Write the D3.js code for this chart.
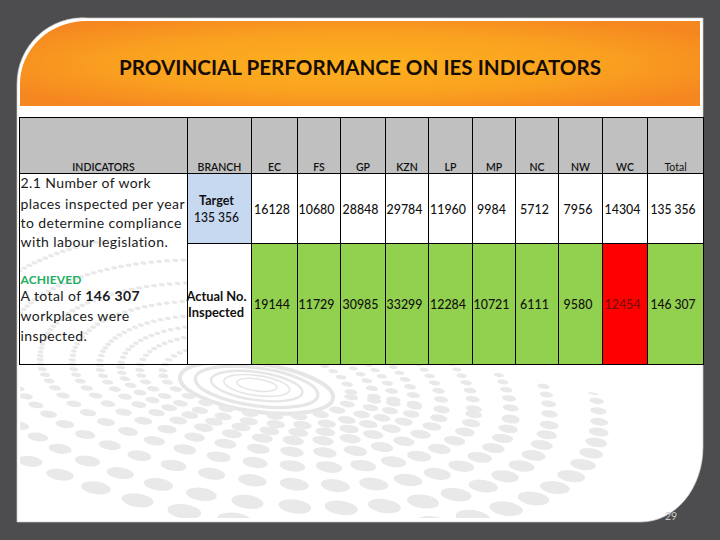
<!DOCTYPE html>
<html><head><meta charset="utf-8">
<script src="https://cdn.jsdelivr.net/npm/d3@7/dist/d3.min.js"></script>
<style>html,body{margin:0;padding:0;background:#4d4d4f}svg{display:block}text{font-family:Lato,"Open Sans",sans-serif}</style>
</head><body><svg id="c" width="720" height="540"></svg>
<script>
const title = "PROVINCIAL PERFORMANCE ON IES INDICATORS";
const columns = ["INDICATORS","BRANCH","EC","FS","GP","KZN","LP","MP","NC","NW","WC","Total"];
const provinces = columns.slice(2, 11);
const targets = [16128,10680,28848,29784,11960,9984,5712,7956,14304];
const actuals = [19144,11729,30985,33299,12284,10721,6111,9580,12454];
const targetTotal = 135356, actualTotal = 146307;
const indicatorLines = ["2.1 Number of work","places inspected per year","to determine compliance","with labour legislation."];
const achievedLines = ["workplaces were","inspected."];
const ringRadii = [6,10,14,19,24,30,38,45,53,64,78,96,118,138];

const fmtSpace = d3.formatLocale({decimal:".",thousands:" ",grouping:[3],currency:["",""]}).format(",");
const svg = d3.select("#c");
const defs = svg.append("defs");

// scales
const edges = [19.5,187.5,251.5,297.5,340.5,385.5,428.5,472.5,515.5,558.5,602.5,647.5,703.5];
const x0 = d3.scaleOrdinal().domain(columns).range(edges.slice(0,-1));
const x1 = d3.scaleOrdinal().domain(columns).range(edges.slice(1));
const cx = c => (x0(c)+x1(c))/2;
const rows = ["header","target","actual"];
const y0 = d3.scaleOrdinal().domain(rows).range([117.5,173.5,243.5]);
const y1 = d3.scaleOrdinal().domain(rows).range([173.5,243.5,364.5]);

// slide
const slidePath = "M17,84 A66,66 0 0 1 88,18 H703 V447 A62,75 0 0 1 641,522 H17 Z";
const headPath = "M20,86 A66,63 0 0 1 88,21 H700 V106 H20 Z";
svg.append("path").attr("d",slidePath).attr("fill","#fff").attr("stroke","#c8c8c8").attr("stroke-width",.7);

const clip = defs.append("clipPath").attr("id","pat");
clip.append("path").attr("d","M20,240 H459 V363 L703,417 V447 A62,75 0 0 1 641,518 H20 Z");
const pat = svg.append("g").attr("clip-path","url(#pat)").attr("fill","#e9e9e9");
const ang = 8*Math.PI/180, ox = 257, oy = 384;
ringRadii.forEach(ry => {
  const ratio = 3.4 - 0.9*Math.min(ry,118)/118;
  const rx = ry*ratio;
  if (ry < 30) {
    pat.append("ellipse").attr("cx",ox).attr("cy",oy+ry*0.15).attr("rx",rx).attr("ry",ry)
      .attr("fill","none").attr("stroke","#e6e6e6").attr("stroke-width",Math.max(1.6,ry*0.17))
      .attr("transform",`rotate(8 ${ox} ${oy})`);
    return;
  }
  const pts = [];
  let t = 0;
  while (t < 2*Math.PI) {
    const ex = rx*Math.cos(t), ey = ry*Math.sin(t);
    const X = ox + ex*Math.cos(ang) - ey*Math.sin(ang);
    const Y = oy + ey*Math.cos(ang)*(ey>0?1:1.25) + ex*Math.sin(ang);
    const w = Math.max(6, 4 + 28*(Y-340)/160);
    pts.push({X,Y,w});
    const sp = Math.hypot(rx*Math.sin(t)*0.8, ry*Math.cos(t)*2.2);
    t += w*1.16/sp;
  }
  pat.selectAll(null).data(pts).join("ellipse")
    .attr("cx",d=>d.X).attr("cy",d=>d.Y).attr("rx",d=>d.w/2).attr("ry",d=>Math.max(1.6,d.w*0.21))
    .attr("transform",d=>`rotate(8 ${d.X} ${d.Y})`);
});

// header
const grad = defs.append("radialGradient").attr("id","hg").attr("cx","50%").attr("cy","50%").attr("r","62%");
grad.append("stop").attr("offset","0%").attr("stop-color","#fcb11e");
grad.append("stop").attr("offset","55%").attr("stop-color","#faa220");
grad.append("stop").attr("offset","100%").attr("stop-color","#f58620");
svg.append("path").attr("d",headPath).attr("fill","url(#hg)");
svg.append("text").attr("x",360).attr("y",75).attr("text-anchor","middle")
  .attr("font-size",20.5).attr("font-weight",700).attr("fill","#160c04")
  .attr("textLength",482).attr("lengthAdjust","spacingAndGlyphs").text(title);

// cells
const cell = (c,r,fill) => svg.append("rect").attr("x",x0(c)).attr("y",y0(r))
  .attr("width",x1(c)-x0(c)).attr("height",y1(r)-y0(r)).attr("fill",fill).attr("stroke","#000").attr("stroke-width",1);
columns.forEach(c => cell(c,"header","#c0c0c0"));
svg.append("rect").attr("x",x0("INDICATORS")).attr("y",y0("target")).attr("width",x1("INDICATORS")-x0("INDICATORS"))
  .attr("height",y1("actual")-y0("target")).attr("fill","none").attr("stroke","#000");
cell("BRANCH","target","#c6d9f1");
cell("BRANCH","actual","#fff");
provinces.forEach((p,i) => {
  cell(p,"target","#fff");
  cell(p,"actual",actuals[i] < targets[i] ? "#ff0000" : "#92d050");
});
cell("Total","target","#fff");
cell("Total","actual","#92d050");

const label = (s,x,y,size,weight,fill="#111",len=null) => {
  const t = svg.append("text").attr("x",x).attr("y",y)
    .attr("text-anchor","middle").attr("font-size",size).attr("font-weight",weight).attr("fill",fill).text(s);
  if (len) t.attr("textLength",len).attr("lengthAdjust","spacingAndGlyphs");
  return t;
};

columns.forEach(c => label(c,cx(c),171,10.5,c==="Total"?400:600));
label("Target",216.5,205,12.5,700);
label(fmtSpace(targetTotal),216.5,221.5,13,500,"#111",45);
label("Actual No.",216.5,301,12.5,700,"#111",60);
label("Inspected",216,316.5,12.5,700,"#111",56);

const numLen = s => s.replace(" ","").length*7.2 + (s.includes(" ")?2:0);
const numShift = 2.5;
const num = (s,c,y,fill="#111") => label(s,cx(c)-numShift,y,13.5,500,fill,numLen(s));
provinces.forEach((p,i) => {
  num(String(targets[i]),p,214);
  num(String(actuals[i]),p,309, actuals[i] < targets[i] ? "#7a0c0c" : "#111");
});
num(fmtSpace(targetTotal),"Total",214);
num(fmtSpace(actualTotal),"Total",309);

// left column
const left = (s,y,size=14,w=400,fill="#1a1a1a",ls=0.4) => svg.append("text").attr("x",20.5).attr("y",y)
  .attr("font-size",size).attr("font-weight",w).attr("fill",fill).attr("letter-spacing",ls).text(s);
[188,208.5,228,247].forEach((y,i)=> left(indicatorLines[i],y));
left("ACHIEVED",284,12,700,"#1fae63",0.1);
const a = left("",301);
a.append("tspan").text("A total of ");
a.append("tspan").attr("font-weight",700).text(fmtSpace(actualTotal));
[321,341].forEach((y,i)=> left(achievedLines[i],y));

svg.append("text").attr("x",671).attr("y",520).attr("text-anchor","middle").attr("font-size",10.5).attr("fill","#c9c9c9").text("29");
</script></body></html>
